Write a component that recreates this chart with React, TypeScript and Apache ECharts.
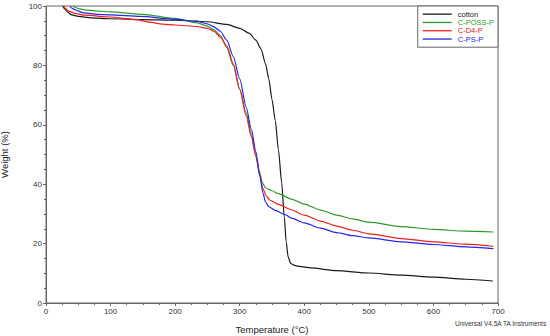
import React, { useEffect, useRef } from "react";
import * as echarts from "echarts";

const seriesNames = ["cotton", "C-POSS-P", "C-D4-P", "C-PS-P"];
const seriesColors = ["#1a1a1a", "#2e9a2e", "#ee2020", "#2626e6"];

const cottonT = [26, 29, 33, 40, 50, 70, 100, 150, 200, 250, 280, 300, 315, 325, 333, 340, 345, 350, 355, 360, 365, 369, 372, 375, 379, 385, 392, 410, 450, 500, 550, 600, 650, 692];
const cottonW = [100, 99, 98, 97, 96.5, 96, 95.7, 95.4, 95.2, 94.7, 93.8, 92.5, 90.8, 88.5, 85.5, 80.5, 75.5, 68.5, 61.5, 51.5, 40.5, 29, 20.5, 15.5, 13.3, 12.7, 12.3, 11.8, 10.9, 10.1, 9.4, 8.7, 8.0, 7.4];

const possT = [42, 46, 52, 60, 80, 100, 150, 200, 233, 250, 260, 270, 280, 290, 300, 310, 318, 325, 331, 335, 340, 350, 360, 380, 400, 425, 450, 475, 500, 550, 600, 650, 693];
const possW = [100, 99.5, 99, 98.7, 98.3, 98, 97.2, 95.8, 94.4, 93.2, 92, 90, 86, 80, 72, 64, 57, 49.5, 44, 40.5, 38.8, 37.8, 36.8, 35, 33.3, 31.3, 29.6, 28.3, 27.2, 25.7, 24.8, 24.2, 23.9];

const d4T = [28, 31, 36, 45, 60, 100, 140, 160, 180, 200, 233, 250, 260, 270, 280, 290, 300, 310, 318, 325, 331, 336, 341, 347, 360, 380, 400, 425, 450, 475, 500, 550, 600, 650, 693];
const d4W = [100, 99, 98.2, 97.5, 96.9, 96.3, 95.4, 94.6, 93.9, 93.6, 93.1, 92.5, 91.5, 89.5, 86.5, 80.5, 72, 63, 56, 49.5, 43, 38.5, 36, 34.6, 33.2, 31.4, 29.6, 27.6, 25.9, 24.5, 23.3, 21.7, 20.6, 19.8, 19.1];

const psT = [37, 40, 45, 58, 80, 100, 146, 200, 233, 250, 260, 270, 280, 290, 300, 310, 318, 325, 331, 336, 340, 345, 355, 370, 380, 400, 425, 450, 475, 500, 550, 600, 650, 693];
const psW = [100, 99.3, 98.7, 97.7, 97.2, 97, 96.5, 95.5, 94.9, 94, 93, 91.5, 88.5, 83, 75.5, 66, 58.5, 51, 43, 37, 34, 32.4, 31.2, 29.8, 28.6, 27, 25.2, 23.7, 22.7, 21.9, 20.6, 19.7, 18.9, 18.3];

const allT = [cottonT, possT, d4T, psT];
const allW = [cottonW, possW, d4W, psW];

const FONT = "'Liberation Sans', Arial, sans-serif";

export default function App() {
  const ref = useRef<HTMLDivElement>(null);
  useEffect(() => {
    if (!ref.current) return;
    const chart = echarts.init(ref.current, undefined, { renderer: "svg" });
    const series = seriesNames.map((name, i) => ({
      name,
      type: "line",
      data: allT[i].map((t, j) => [t, allW[i][j]]),
      showSymbol: false,
      symbol: "none",
      smooth: 0.25,
      smoothMonotone: "x",
      lineStyle: { color: seriesColors[i], width: 1.2 },
      itemStyle: { color: seriesColors[i] },
      z: 2,
    }));
    chart.setOption({
      animation: false,
      backgroundColor: "#ffffff",
      textStyle: { fontFamily: FONT },
      grid: {
        left: 46,
        right: 52,
        top: 6,
        bottom: 33,
        outerBoundsMode: "none",
        containLabel: false,
        show: true,
        borderColor: "#666",
        borderWidth: 1,
        backgroundColor: "transparent",
      },
      legend: {
        data: seriesNames.map((n, i) => ({ name: n, textStyle: { color: seriesColors[i] } })),
        orient: "vertical",
        right: 52,
        top: 6,
        icon: "rect",
        itemWidth: 29,
        itemHeight: 1.3,
        itemGap: 0,
        padding: [4, 4, 4, 5],
        borderColor: "#666",
        borderWidth: 1,
        backgroundColor: "#fff",
        selectedMode: false,
        textStyle: { fontSize: 7.5, lineHeight: 8.3, fontFamily: FONT, padding: [0, 0, 0, 1] },
      },
      xAxis: {
        type: "value",
        min: 0,
        max: 700,
        interval: 100,
        name: "Temperature (°C)",
        nameLocation: "middle",
        nameGap: 21,
        nameTextStyle: { fontSize: 9.5, color: "#222", fontFamily: FONT },
        axisLine: { show: true, onZero: false, lineStyle: { color: "#666", width: 1 } },
        axisTick: { show: true, inside: false, length: 3, lineStyle: { color: "#666" } },
        minorTick: { show: true, splitNumber: 4, length: 2, lineStyle: { color: "#666" } },
        splitLine: { show: false },
        axisLabel: { fontSize: 8, color: "#333", margin: 4, fontFamily: FONT },
      },
      yAxis: {
        type: "value",
        min: 0,
        max: 100,
        interval: 20,
        name: "Weight (%)",
        nameLocation: "middle",
        nameGap: 37,
        nameTextStyle: { fontSize: 9.5, color: "#222", fontFamily: FONT },
        axisLine: { show: true, onZero: false, lineStyle: { color: "#666", width: 1 } },
        axisTick: { show: true, inside: false, length: 3, lineStyle: { color: "#666" } },
        minorTick: { show: true, splitNumber: 4, length: 2, lineStyle: { color: "#666" } },
        splitLine: { show: false },
        axisLabel: { fontSize: 8, color: "#333", margin: 4, fontFamily: FONT },
      },
      graphic: [
        {
          type: "text",
          right: 3,
          top: 320,
          style: {
            text: "Universal V4.5A TA Instruments",
            fontSize: 6.5,
            fill: "#333",
            fontFamily: FONT,
          },
        },
      ],
      series,
    });
    return () => chart.dispose();
  }, []);
  return (
    <div
      ref={ref}
      style={{ width: 550, height: 336, position: "absolute", left: 0, top: 0, background: "#fff" }}
    />
  );
}
